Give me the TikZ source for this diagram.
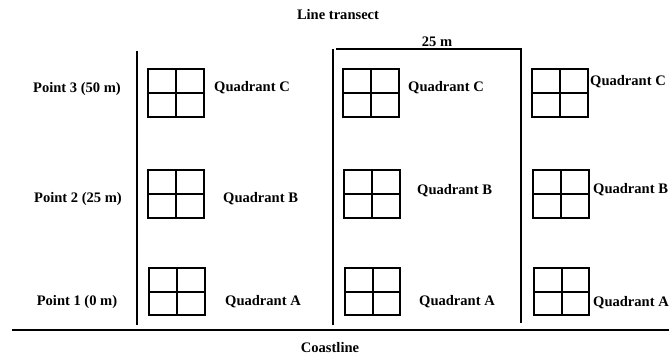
\documentclass[tikz,border=0pt]{standalone}
\usepackage{fontspec}
\setmainfont{Liberation Serif}
\usepackage{tikz}

\begin{document}
\begin{tikzpicture}[x=1bp,y=-1bp,
  every node/.style={font=\fontsize{14.6}{16}\selectfont\bfseries,inner sep=0pt},
  quadrant/.style={line width=1.4bp}]

\useasboundingbox (0,0) rectangle (669,356) ;

\node (title) at (338,15) {Line transect} ;
\node (width) at (437,42) {25 m} ;
\node (coast) at (330,348) {Coastline} ;

\draw [line width=1.6bp] (137,51) -- (137,325) ;
\draw [line width=1.6bp] (333,325) -- (333,49) ;
\draw [line width=1.6bp] (336,49) -- (521,49) -- (521,323) ;
\draw [line width=2bp] (12,330) -- (669,330) ;

\node (pt3) at (77,89) {Point 3 (50 m)} ;
\node (pt2) at (78,199) {Point 2 (25 m)} ;
\node (pt1) at (77,302) {Point 1 (0 m)} ;

\draw [quadrant] (148,69) rectangle ++(56,48) (176,69) -- ++(0,48) (148,93) -- ++(56,0) ;
\draw [quadrant] (148,170) rectangle ++(56,48) (176,170) -- ++(0,48) (148,194) -- ++(56,0) ;
\draw [quadrant] (149,268) rectangle ++(56,47) (177,268) -- ++(0,47) (149,292) -- ++(56,0) ;
\draw [quadrant] (343,69) rectangle ++(56,48) (371,69) -- ++(0,48) (343,93) -- ++(56,0) ;
\draw [quadrant] (344,170) rectangle ++(56,48) (372,170) -- ++(0,48) (344,194) -- ++(56,0) ;
\draw [quadrant] (345,268) rectangle ++(55,47) (373,268) -- ++(0,47) (345,292) -- ++(55,0) ;
\draw [quadrant] (532,69) rectangle ++(56,48) (560,69) -- ++(0,48) (532,93) -- ++(56,0) ;
\draw [quadrant] (533,170) rectangle ++(56,48) (561,170) -- ++(0,48) (533,194) -- ++(56,0) ;
\draw [quadrant] (534,268) rectangle ++(55,47) (562,268) -- ++(0,47) (534,292) -- ++(55,0) ;

\node [anchor=west] (qc1) at (214,88) {Quadrant C} ;
\node [anchor=west] (qb1) at (223,199) {Quadrant B} ;
\node [anchor=west] (qa1) at (225,302) {Quadrant A} ;
\node [anchor=west] (qc2) at (408,88) {Quadrant C} ;
\node [anchor=west] (qb2) at (417,191) {Quadrant B} ;
\node [anchor=west] (qa2) at (419,302) {Quadrant A} ;
\node [anchor=west] (qc3) at (590,82) {Quadrant C} ;
\node [anchor=west] (qb3) at (593,190) {Quadrant B} ;
\node [anchor=west] (qa3) at (593,303) {Quadrant A} ;

\end{tikzpicture}
\end{document}
